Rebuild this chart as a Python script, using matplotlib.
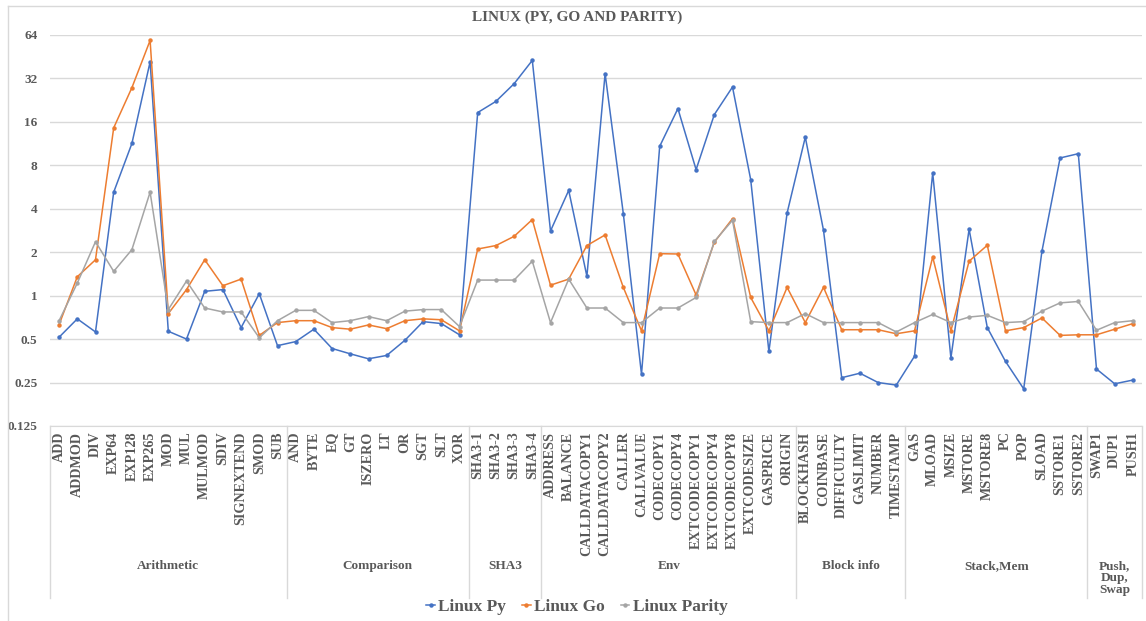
"Opcode timing ratios on Linux for the Py, Go and Parity clients"

import matplotlib.pyplot as plt
from matplotlib.lines import Line2D
import matplotlib.transforms as mtransforms

opcodes = [
    "ADD", "ADDMOD", "DIV", "EXP64", "EXP128", "EXP265", "MOD", "MUL",
    "MULMOD", "SDIV", "SIGNEXTEND", "SMOD", "SUB",
    "AND", "BYTE", "EQ", "GT", "ISZERO", "LT", "OR", "SGT", "SLT", "XOR",
    "SHA3-1", "SHA3-2", "SHA3-3", "SHA3-4",
    "ADDRESS", "BALANCE", "CALLDATACOPY1", "CALLDATACOPY2", "CALLER",
    "CALLVALUE", "CODECOPY1", "CODECOPY4", "EXTCODECOPY1", "EXTCODECOPY4",
    "EXTCODECOPY8", "EXTCODESIZE", "GASPRICE", "ORIGIN",
    "BLOCKHASH", "COINBASE", "DIFFICULTY", "GASLIMIT", "NUMBER", "TIMESTAMP",
    "GAS", "MLOAD", "MSIZE", "MSTORE", "MSTORE8", "PC", "POP", "SLOAD",
    "SSTORE1", "SSTORE2",
    "SWAP1", "DUP1", "PUSH1",
]
groups = ["Arithmetic", "Comparison", "SHA3", "Env", "Block info",
          "Stack,Mem", "Push,\nDup,\nSwap"]
group_sizes = [13, 10, 4, 14, 6, 10, 3]

linux_py = [
    0.515, 0.69, 0.56, 5.2, 11.3, 41.5, 0.566, 0.50, 1.07, 1.10, 0.60, 1.03, 0.45,
    0.48, 0.585, 0.43, 0.395, 0.365, 0.385, 0.49, 0.66, 0.64, 0.535,
    18.5, 22.1, 29.3, 42.5,
    2.8, 5.35, 1.36, 34.4, 3.7, 0.285, 10.8, 19.7, 7.45, 17.9, 27.8, 6.35,
    0.41, 3.73,
    12.5, 2.83, 0.27, 0.29, 0.25, 0.24,
    0.38, 7.06, 0.37, 2.88, 0.60, 0.35, 0.226, 2.02, 8.97, 9.6,
    0.31, 0.245, 0.26,
]
linux_go = [
    0.63, 1.35, 1.77, 14.5, 27.5, 58.4, 0.75, 1.10, 1.77, 1.17, 1.30, 0.53, 0.65,
    0.67, 0.67, 0.60, 0.585, 0.626, 0.59, 0.67, 0.69, 0.68, 0.57,
    2.1, 2.22, 2.57, 3.36,
    1.18, 1.30, 2.22, 2.63, 1.14, 0.57, 1.95, 1.94, 1.01, 2.34, 3.41, 0.97,
    0.57, 1.14,
    0.65, 1.14, 0.58, 0.58, 0.58, 0.544,
    0.57, 1.85, 0.57, 1.73, 2.23, 0.57, 0.60, 0.70, 0.53, 0.535,
    0.535, 0.585, 0.64,
]
linux_parity = [
    0.67, 1.22, 2.36, 1.47, 2.08, 5.2, 0.80, 1.26, 0.82, 0.77, 0.77, 0.51, 0.67,
    0.79, 0.79, 0.65, 0.67, 0.715, 0.67, 0.78, 0.80, 0.80, 0.61,
    1.28, 1.28, 1.28, 1.73,
    0.65, 1.30, 0.82, 0.82, 0.65, 0.65, 0.82, 0.82, 0.97, 2.37, 3.32, 0.66,
    0.65, 0.65,
    0.75, 0.65, 0.65, 0.65, 0.65, 0.56,
    0.65, 0.74, 0.65, 0.71, 0.73, 0.65, 0.66, 0.78, 0.89, 0.91,
    0.575, 0.65, 0.67,
]
yticks = [0.125, 0.25, 0.5, 1, 2, 4, 8, 16, 32, 64]
ytick_labels = ["0.125", "0.25", "0.5", "1", "2", "4", "8", "16", "32", "64"]

series = [
    ("Linux Py", linux_py, "#4472C4"),
    ("Linux Go", linux_go, "#ED7D31"),
    ("Linux Parity", linux_parity, "#A5A5A5"),
]

TEXT = "#595959"
GRID = "#d9d9d9"
FONT = "Liberation Serif"
W, H = 1146, 621

fig = plt.figure(figsize=(W / 100, H / 100), dpi=100)
ax = fig.add_axes([50 / W, (H - 426) / H, 1092 / W, 391.3 / H])

x = list(range(len(opcodes)))
for name, values, color in series:
    ax.plot(x, values, color=color, lw=1.1, marker="o", ms=2.2, label=name)

ax.set_yscale("log", base=2)
ax.set_ylim(0.125, 64)
ax.set_xlim(-0.5, len(opcodes) - 0.5)
ax.set_yticks(yticks)
ax.set_yticklabels(ytick_labels)
ax.minorticks_off()
ax.set_xticks(x)
ax.set_xticklabels(opcodes, rotation=90, va="top", ha="center")
ax.tick_params(axis="both", length=0, colors=TEXT)
ax.tick_params(axis="y", pad=9, labelsize=9.5)
ax.tick_params(axis="x", pad=4, labelsize=10.2)
for lbl in ax.get_xticklabels() + ax.get_yticklabels():
    lbl.set_fontfamily(FONT)
    lbl.set_fontweight("bold")

ax.grid(axis="y", color=GRID, lw=1.0)
ax.set_axisbelow(True)
for side in ["left", "right", "top"]:
    ax.spines[side].set_visible(False)
ax.spines["bottom"].set_color(GRID)

# group separators and names under the opcode labels
trans = mtransforms.blended_transform_factory(ax.transData, ax.transAxes)
depth = -172 / 391.3
start = 0
edges = [-0.5]
for name, size in zip(groups, group_sizes):
    ax.text(start + size / 2 - 0.5, -134 / 391.3, name, transform=trans,
            ha="center", va="top", fontsize=9.5, fontweight="bold",
            family=FONT, color=TEXT, linespacing=1.0)
    start += size
    edges.append(start - 0.5)
for e in edges:
    ax.plot([e, e], [0, depth], transform=trans, color=GRID, lw=1.0,
            clip_on=False)

fig.text(577 / W, 1 - 17 / H, "LINUX (PY, GO AND PARITY)", ha="center",
         va="center", fontsize=11, fontweight="bold", family=FONT, color=TEXT)

handles = [Line2D([], [], color=c, lw=1.1, marker="o", ms=2.2)
           for _, _, c in series]
fig.legend(handles, [s[0] for s in series], loc="center", ncol=3,
           bbox_to_anchor=(577 / W, 1 - 607 / H), frameon=False,
           handlelength=0.5, handletextpad=0.2, columnspacing=0.9,
           prop={"family": FONT, "weight": "bold", "size": 12.5},
           labelcolor=TEXT)

# chart frame
fig.add_artist(Line2D([8 / W, 1], [1 - 6 / H] * 2, color=GRID, lw=1.0))
fig.add_artist(Line2D([8 / W] * 2, [0, 1 - 6 / H], color=GRID, lw=1.0))

fig.savefig("out.png", dpi=100)
